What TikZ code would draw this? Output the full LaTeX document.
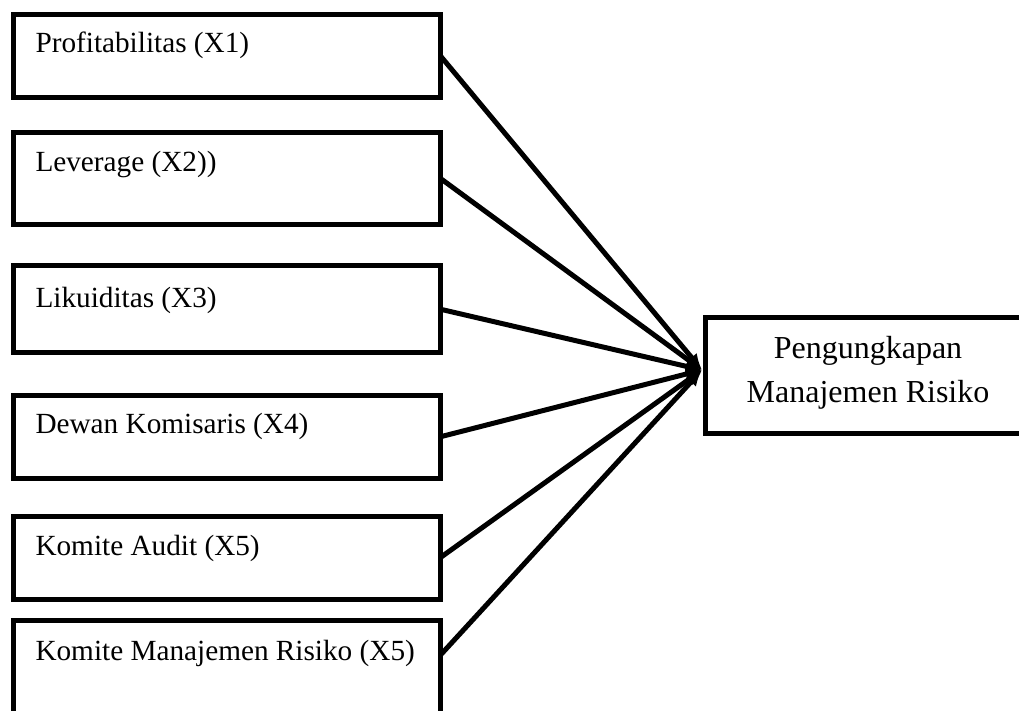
\documentclass[tikz,border=0pt]{standalone}
\usepackage{fontspec}
\setmainfont{Liberation Serif}
\usetikzlibrary{arrows.meta}
\tikzset{
  varbox/.style={draw=black, line width=2pt, rectangle, inner sep=0pt, outer sep=0pt,
    anchor=north west, minimum width=170.8pt},
  boxtext/.style={anchor=base west, inner sep=0pt, font=\fontsize{11.7pt}{14pt}\selectfont},
  conn/.style={line width=2pt, -{Latex[length=6.5pt,width=5.5pt]}},
}
\begin{document}
\begin{tikzpicture}[x=0.4pt,y=-0.4pt]
\clip (0,0) rectangle (1019,711);
\fill[white] (0,0) rectangle (1019,711);
% left boxes
\node[varbox, minimum height=33.2pt] (b1) at (13.5,14.5) {};
\node[varbox, minimum height=36.8pt] (b2) at (13.5,132.5) {};
\node[varbox, minimum height=34.6pt] (b3) at (13.5,266) {};
\node[varbox, minimum height=33pt] (b4) at (13.5,395.5) {};
\node[varbox, minimum height=33.2pt] (b5) at (13.5,516) {};
\node[varbox, minimum height=44pt] (b6) at (13.5,620) {};
% texts
\node[boxtext] (l1) at (35,53) {Profitabilitas (X1)};
\node[boxtext] (l2) at (35,172) {Leverage (X2))};
\node[boxtext] (l3) at (35,308) {Likuiditas (X3)};
\node[boxtext] (l4) at (35,434) {Dewan Komisaris (X4)};
\node[boxtext] (l5) at (35,555) {Komite Audit (X5)};
\node[boxtext] (l6) at (35,660) {Komite Manajemen Risiko (X5)};
% right box
\node[varbox, minimum width=130.4pt, minimum height=46pt] (y) at (705,318) {};
\node[inner sep=0pt, align=center, font=\fontsize{12.8pt}{17.6pt}\selectfont] (yt) at (868,373) {Pengungkapan\\Manajemen Risiko};
% connectors
\coordinate (t) at (702,370);
\coordinate (s6) at (440.5,655);
\draw[conn] (b1.east) -- (t);
\draw[conn] (b2.east) -- (t);
\draw[conn] (b3.east) -- (t);
\draw[conn] (b4.east) -- (t);
\draw[conn] (b5.east) -- (t);
\draw[conn] (s6) -- (t);
\end{tikzpicture}
\end{document}
